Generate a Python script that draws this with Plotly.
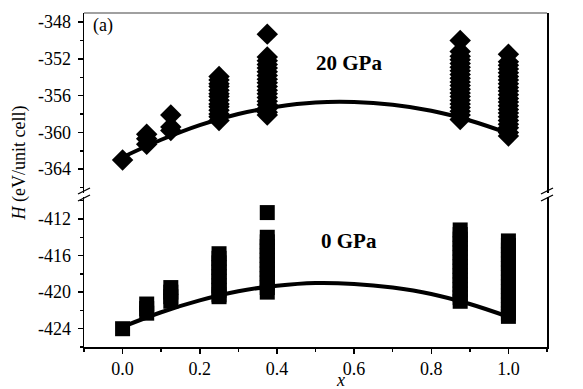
import plotly.graph_objects as go

# ---------------- data ----------------
x_comp = [0.0, 0.0625, 0.125, 0.25, 0.375, 0.875, 1.0]

# 20 GPa enthalpies (eV/unit cell)
h20_x000 = [-363.0]
h20_x0625 = [-360.2, -360.7, -361.3]
h20_x125 = [-358.1, -359.4, -359.8]
h20_x250 = [-353.9, -354.3, -354.7, -355.0, -355.4, -355.8, -356.1, -356.5,
            -356.9, -357.2, -357.6, -358.0, -358.3, -358.7]
h20_x375 = [-349.3, -351.8, -352.2, -352.6, -353.0, -353.4, -353.8, -354.2,
            -354.6, -355.0, -355.4, -355.8, -356.2, -356.6, -357.0, -357.4,
            -357.8, -358.1]
h20_x875 = [-350.0, -351.2, -351.7, -352.1, -352.5, -352.9, -353.3, -353.7,
            -354.1, -354.5, -354.9, -355.3, -355.7, -356.1, -356.5, -356.9,
            -357.3, -357.7, -358.1, -358.6]
h20_x1000 = [-351.5, -352.3, -352.7, -353.1, -353.5, -353.9, -354.3, -354.7,
             -355.1, -355.5, -355.9, -356.3, -356.7, -357.1, -357.5, -357.9,
             -358.3, -358.7, -359.1, -359.5, -360.0, -360.4]

# 0 GPa enthalpies (eV/unit cell)
h0_x000 = [-424.0]
h0_x0625 = [-421.3, -421.8, -422.3]
h0_x125 = [-419.5, -420.0, -420.5, -421.0]
h0_x250 = [-415.8, -416.3, -416.8, -417.3, -417.8, -418.3, -418.8, -419.3,
           -419.8, -420.3, -420.5]
h0_x375 = [-411.3, -414.0, -414.5, -415.0, -415.5, -416.0, -416.5, -417.0,
           -417.5, -418.0, -418.5, -419.0, -419.5, -420.0]
h0_x875 = [-413.2, -413.7, -414.2, -414.7, -415.2, -415.7, -416.2, -416.7,
           -417.2, -417.7, -418.2, -418.7, -419.2, -419.7, -420.2, -420.6,
           -421.0]
h0_x1000 = [-414.4, -414.9, -415.4, -415.9, -416.4, -416.9, -417.4, -417.9,
            -418.4, -418.9, -419.4, -419.9, -420.4, -420.9, -421.4, -421.9,
            -422.3, -422.65]

# fitted curves, read at x = 0, 0.1, ..., 1.0
curve_x = [0.0, 0.1, 0.2, 0.3, 0.4, 0.5, 0.6, 0.7, 0.8, 0.9, 1.0]
curve_20 = [-362.7, -360.8, -359.2, -358.0, -357.2, -356.75, -356.7, -357.0,
            -357.65, -358.7, -360.1]
curve_0 = [-423.8, -422.2, -420.9, -419.9, -419.3, -419.0, -419.1, -419.5,
           -420.2, -421.3, -422.7]

y_ticks_top = [-364, -360, -356, -352, -348]
y_ticks_bot = [-424, -420, -416, -412]
x_ticks = [0.0, 0.2, 0.4, 0.6, 0.8, 1.0]

# ---------------- build ----------------
h20_sets = [h20_x000, h20_x0625, h20_x125, h20_x250, h20_x375, h20_x875, h20_x1000]
h0_sets = [h0_x000, h0_x0625, h0_x125, h0_x250, h0_x375, h0_x875, h0_x1000]

def flatten(sets):
    xs, ys = [], []
    for xc, vals in zip(x_comp, sets):
        for v in vals:
            xs.append(xc)
            ys.append(v)
    return xs, ys

x20, y20 = flatten(h20_sets)
x0, y0 = flatten(h0_sets)

FONT = "Liberation Serif"
fig = go.Figure()

fig.add_trace(go.Scatter(x=x20, y=y20, mode="markers", xaxis="x", yaxis="y2",
                         marker=dict(symbol="diamond", size=16.5, color="black",
                                     line=dict(width=0)),
                         showlegend=False, hoverinfo="skip"))
fig.add_trace(go.Scatter(x=curve_x, y=curve_20, mode="lines", xaxis="x", yaxis="y2",
                         line=dict(color="black", width=4, shape="spline"),
                         showlegend=False, hoverinfo="skip"))
fig.add_trace(go.Scatter(x=x0, y=y0, mode="markers", xaxis="x", yaxis="y",
                         marker=dict(symbol="square", size=15, color="black",
                                     line=dict(width=0)),
                         showlegend=False, hoverinfo="skip"))
fig.add_trace(go.Scatter(x=curve_x, y=curve_0, mode="lines", xaxis="x", yaxis="y",
                         line=dict(color="black", width=4, shape="spline"),
                         showlegend=False, hoverinfo="skip"))

axis_common = dict(showline=True, linecolor="black", linewidth=1.5,
                   ticks="outside", ticklen=5, tickwidth=1.5, tickcolor="black",
                   showgrid=False, zeroline=False, automargin=False,
                   tickfont=dict(family=FONT, size=18, color="black"))

def lab(v, fmt):
    return fmt.format(v).replace("\u2212", "-")

fig.update_layout(
    width=583, height=389,
    margin=dict(l=84, r=36, t=13, b=42, autoexpand=False),
    paper_bgcolor="white", plot_bgcolor="white",
    font=dict(family=FONT, color="black"),
    hovermode=False,
    xaxis=dict(domain=[0, 1], range=[-0.1, 1.1], anchor="y",
               tickvals=x_ticks, ticktext=[lab(v, "{:.1f}") for v in x_ticks],
               minor=dict(dtick=0.1, tick0=0, ticks="outside", ticklen=3,
                          tickwidth=1.5, tickcolor="black"),
               **axis_common),
    yaxis=dict(domain=[0, 0.449], range=[-426, -409.6], anchor="x",
               tickvals=y_ticks_bot, ticktext=[lab(v, "{:d}") for v in y_ticks_bot],
               mirror=True, ticklabelstandoff=3,
               minor=dict(dtick=2, tick0=-412, ticks="outside", ticklen=3,
                          tickwidth=1.5, tickcolor="black"),
               **axis_common),
    yaxis2=dict(domain=[0.461, 1], range=[-366.6, -347], anchor="x",
                tickvals=y_ticks_top, ticktext=[lab(v, "{:d}") for v in y_ticks_top],
                mirror=True, ticklabelstandoff=3,
                minor=dict(dtick=2, tick0=-348, ticks="outside", ticklen=3,
                           tickwidth=1.5, tickcolor="black"),
                **axis_common),
)

# top border (grey) and axis-break marks
shapes = [dict(type="line", xref="paper", yref="paper", x0=0, x1=1, y0=1, y1=1,
               line=dict(color="#808080", width=1.5))]
dx, dy = 6 / 463, 3 / 334
for xc in (0, 1):
    for yc in (0.467, 0.446):
        shapes.append(dict(type="line", xref="paper", yref="paper",
                           x0=xc - dx, x1=xc + dx, y0=yc - dy, y1=yc + dy,
                           line=dict(color="black", width=1.3)))
fig.update_layout(shapes=shapes)

ann = [
    dict(text="(a)", x=0.041, y=0.964, font=dict(size=18)),
    dict(text="<b>20 GPa</b>", x=0.572, y=0.850, font=dict(size=21)),
    dict(text="<b>0 GPa</b>", x=0.572, y=0.317, font=dict(size=21)),
    dict(text="<i>H</i> (eV/unit cell)", x=-0.14, y=0.55, textangle=-90,
         font=dict(size=18)),
    dict(text="<i>x</i>", x=0.553, y=-0.1, font=dict(size=18)),
]
for a in ann:
    a.update(xref="paper", yref="paper", showarrow=False,
             xanchor="center", yanchor="middle")
    a["font"].update(family=FONT, color="black")
fig.update_layout(annotations=ann)

fig.write_html("out.html",
               config={"displayModeBar": False, "staticPlot": True},
               post_script="document.body.style.margin='0';"
                           "document.body.style.overflow='hidden';")
